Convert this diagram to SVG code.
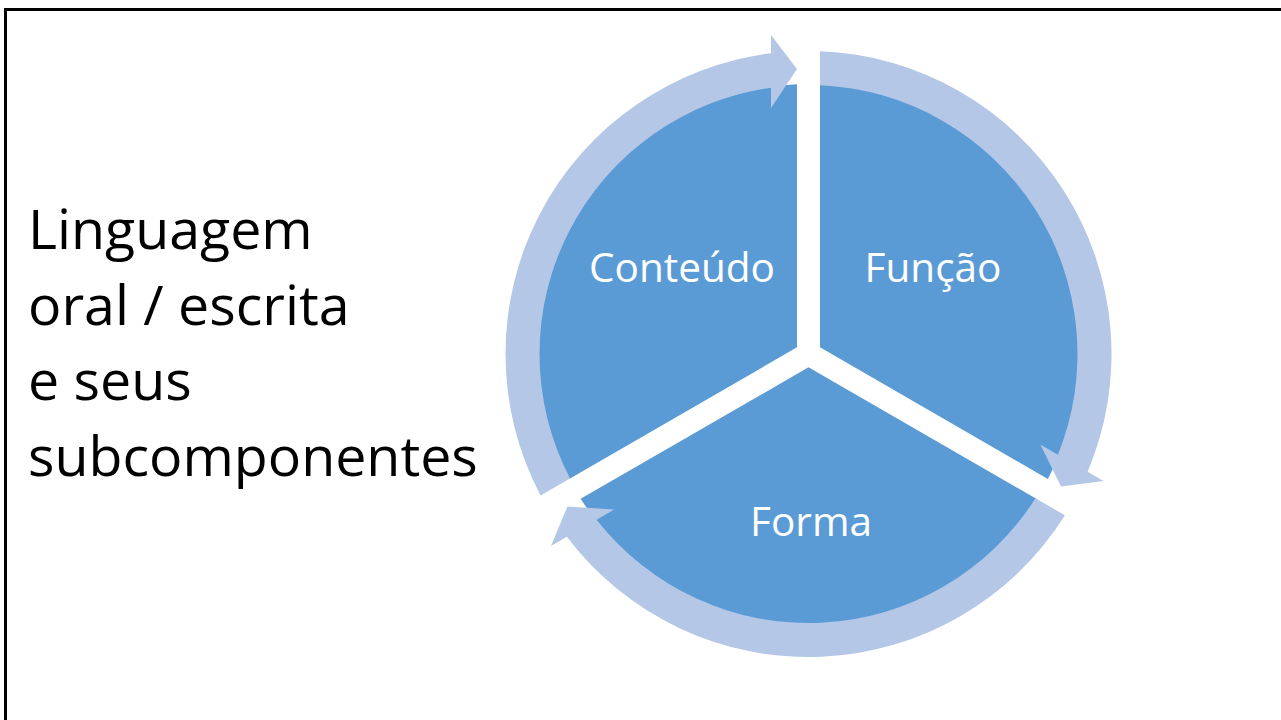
<svg xmlns="http://www.w3.org/2000/svg" xmlns:xlink="http://www.w3.org/1999/xlink" width="1281" height="720" viewBox="0 0 1281 720">
  <style>
    .sector { fill: #5B9BD5; }
    .ring { fill: #B4C7E7; }
    .label { font-family: "Open Sans", "Liberation Sans", sans-serif; font-size: 40.5px; fill: #FFFFFF; text-anchor: middle; }
    .title { font-family: "Open Sans", "Liberation Sans", sans-serif; font-size: 55.5px; fill: #000000; }
  </style>
  <defs>
    <path id="sectorShape" d="M -11.5 -6.64 L -11.5 -269.75 A 270 270 0 0 0 -239.36 124.92 Z"/>
    <path id="arrowShape" d="M -267.96 141.43 A 303 303 0 0 1 -37.5 -300.67 L -37.5 -319 L -11.5 -285 L -37.5 -246 L -37.5 -266.37 A 269 269 0 0 0 -238.49 124.42 Z"/>
  </defs>
  <rect x="0" y="0" width="1281" height="720" fill="#FFFFFF"/>
  <path d="M 5.5 720 V 9.5 H 1281" fill="none" stroke="#000000" stroke-width="3"/>

  <g id="title">
    <text class="title" x="28" y="249">Linguagem</text>
    <text class="title" x="28" y="325">oral / escrita</text>
    <text class="title" x="28" y="400">e seus</text>
    <text class="title" x="28" y="476">subcomponentes</text>
  </g>

  <g id="node-conteudo">
    <use xlink:href="#sectorShape" href="#sectorShape" class="sector" transform="translate(808.5 354)"/>
    <text class="label" x="682" y="282">Conteúdo</text>
  </g>
  <g id="node-funcao">
    <use xlink:href="#sectorShape" href="#sectorShape" class="sector" transform="translate(808.5 354) rotate(120)"/>
    <text class="label" x="933" y="282">Função</text>
  </g>
  <g id="node-forma">
    <use xlink:href="#sectorShape" href="#sectorShape" class="sector" transform="translate(808.5 354) rotate(240)"/>
    <text class="label" x="811" y="536">Forma</text>
  </g>

  <g id="connectors">
    <use xlink:href="#arrowShape" href="#arrowShape" class="ring" transform="translate(808.5 354)"/>
    <use xlink:href="#arrowShape" href="#arrowShape" class="ring" transform="translate(808.5 354) rotate(120)"/>
    <use xlink:href="#arrowShape" href="#arrowShape" class="ring" transform="translate(808.5 354) rotate(240)"/>
  </g>
</svg>
